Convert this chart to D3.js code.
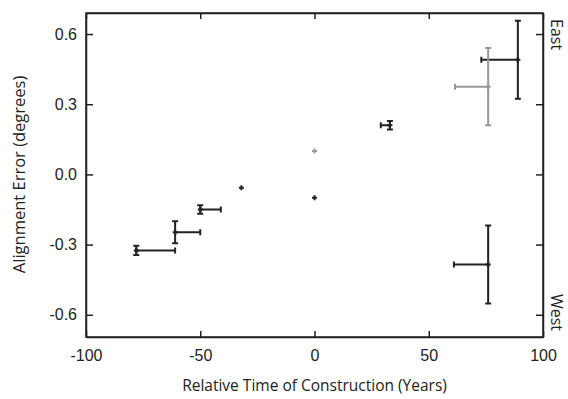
<!DOCTYPE html>
<html>
<head>
<meta charset="utf-8">
<script src="https://cdn.jsdelivr.net/npm/d3@7"></script>
<style>
  body { margin: 0; background: #fff; }
  svg { display: block; font-family: "Open Sans", "Noto Sans", sans-serif; }
  .axis path, .axis line { stroke: #222; stroke-width: 1.5; }
  .axis text { font-size: 16px; fill: #222; }
</style>
</head>
<body>
<svg id="chart" width="568" height="399"></svg>
<script>
// measurements: year offset, alignment error and their error ranges
var years    = [-78, -61, -50, -32, 0, 0, 33, 89, 76, 76];
var errors   = [-0.325, -0.247, -0.15, -0.057, -0.1, 0.1, 0.21, 0.49, 0.375, -0.385];
var yearLo   = [0, 0, 0, 0, 0, 0, 4, 16, 14.5, 15];
var yearHi   = [17, 11, 9, 0, 0, 0, 0, 0, 0, 0];
var errLo    = [0.02, 0.047, 0.018, 0, 0, 0, 0.018, 0.167, 0.165, 0.167];
var errHi    = [0.02, 0.047, 0.018, 0, 0, 0, 0.018, 0.167, 0.165, 0.167];
var tone     = ['dark', 'dark', 'dark', 'dark', 'dark', 'light', 'dark', 'dark', 'light', 'dark'];

var xTicks = [-100, -50, 0, 50, 100];
var yTicks = [-0.6, -0.3, 0, 0.3, 0.6];
var sides  = ['East', 'West'];

var colors = {dark: '#222', light: '#999'};

// atur margin
var margin = {top: 13, right: 25, bottom: 62, left: 86},
  width = 568 - margin.left - margin.right,
  height = 399 - margin.top - margin.bottom;

var x = d3.scaleLinear().domain([-100, 100]).range([0, width]);
var y = d3.scaleLinear().domain([-0.695, 0.69]).range([height, 0]);

var svg = d3.select('#chart');
var g = svg.append('g')
  .attr('transform', 'translate(' + margin.left + ',' + margin.top + ')');

var tickLen = 6;

// plain hyphen for negatives
g.append('g')
  .attr('class', 'x axis')
  .attr('transform', 'translate(0,' + height + ')')
  .call(d3.axisBottom(x).tickValues(xTicks).tickSizeInner(-tickLen).tickSizeOuter(0).tickPadding(13)
    .tickFormat(function(d) { return String(d); }))
  .call(function(s) { s.selectAll('.tick text').attr('dy', '0.71em'); });

g.append('g')
  .attr('class', 'x axis')
  .call(d3.axisTop(x).tickValues(xTicks).tickSizeInner(-tickLen).tickSizeOuter(0).tickFormat(''));

g.append('g')
  .attr('class', 'y axis')
  .call(d3.axisLeft(y).tickValues(yTicks).tickSizeInner(-7).tickSizeOuter(0).tickPadding(9)
    .tickFormat(function(d) { return d.toFixed(1); }));

g.append('g')
  .attr('class', 'y axis')
  .attr('transform', 'translate(' + width + ',0)')
  .call(d3.axisRight(y).tickValues(yTicks).tickSizeInner(-7).tickSizeOuter(0).tickFormat(''));

// the frame
g.append('rect')
  .attr('width', width).attr('height', height)
  .attr('fill', 'none').attr('stroke', '#222').attr('stroke-width', 1.5);

// East / West labels on the right side, reading downwards
g.selectAll('.side')
  .data(sides)
  .enter().append('text')
  .attr('class', 'side')
  .attr('transform', function(d, i) {
    return 'translate(' + (width + 8) + ',' + (i === 0 ? 6 : height - 6) + ') rotate(90)';
  })
  .attr('text-anchor', function(d, i) { return i === 0 ? 'start' : 'end'; })
  .attr('font-size', 16)
  .attr('fill', '#222')
  .text(function(d) { return d; });

// axis titles
svg.append('text')
  .attr('x', margin.left + width / 2)
  .attr('y', 391)
  .attr('text-anchor', 'middle')
  .attr('font-size', 15.5)
  .attr('fill', '#222')
  .text('Relative Time of Construction (Years)');

svg.append('text')
  .attr('transform', 'translate(25,' + (margin.top + y(0)) + ') rotate(-90)')
  .attr('text-anchor', 'middle')
  .attr('font-size', 16.5)
  .attr('fill', '#222')
  .text('Alignment Error (degrees)');

var pts = years.map(function(d, i) {
  return {x: d, y: errors[i], xl: d - yearLo[i], xh: d + yearHi[i],
    yl: errors[i] - errLo[i], yh: errors[i] + errHi[i], c: colors[tone[i]]};
});

var cap = 3;
var marks = g.selectAll('.pt')
  .data(pts)
  .enter().append('g')
  .attr('class', 'pt')
  .attr('stroke', function(d) { return d.c; })
  .attr('stroke-width', 2)
  .attr('fill', 'none');

// horizontal range
marks.filter(function(d) { return d.xl !== d.xh; }).append('path')
  .attr('d', function(d) {
    return 'M' + x(d.xl) + ',' + y(d.y) + 'H' + x(d.xh) +
      'M' + x(d.xl) + ',' + (y(d.y) - cap) + 'V' + (y(d.y) + cap) +
      'M' + x(d.xh) + ',' + (y(d.y) - cap) + 'V' + (y(d.y) + cap);
  });

// vertical range
marks.filter(function(d) { return d.yl !== d.yh; }).append('path')
  .attr('d', function(d) {
    return 'M' + x(d.x) + ',' + y(d.yl) + 'V' + y(d.yh) +
      'M' + (x(d.x) - cap) + ',' + y(d.yl) + 'H' + (x(d.x) + cap) +
      'M' + (x(d.x) - cap) + ',' + y(d.yh) + 'H' + (x(d.x) + cap);
  });

// point marker
marks.append('path')
  .attr('d', function(d) {
    return 'M' + (x(d.x) - 2.5) + ',' + y(d.y) + 'h5' +
      'M' + x(d.x) + ',' + (y(d.y) - 2.5) + 'v5';
  });
</script>
</body>
</html>
